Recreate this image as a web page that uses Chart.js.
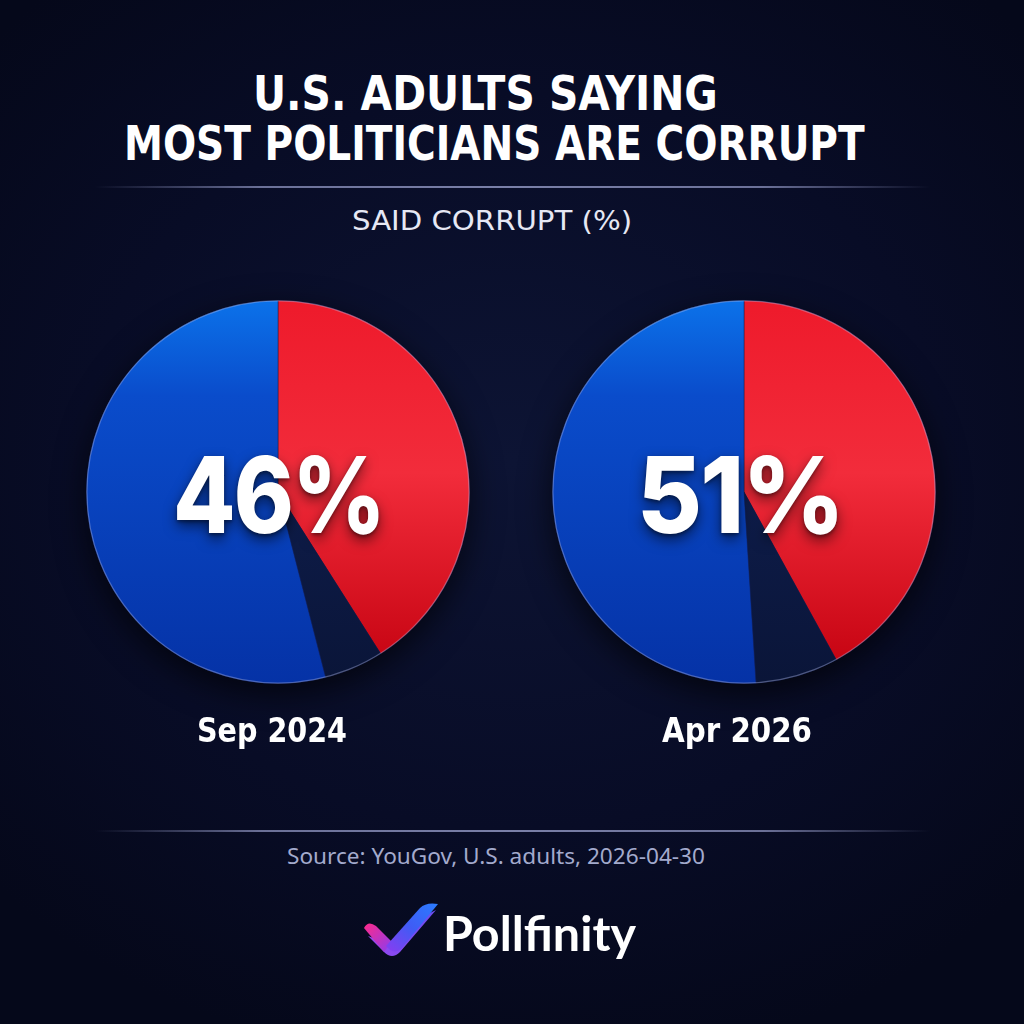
<!DOCTYPE html>
<html>
<head>
<meta charset="utf-8">
<script src="https://cdn.jsdelivr.net/npm/chart.js@4.4.1/dist/chart.umd.min.js"></script>
<style>
  html, body { margin: 0; padding: 0; }
  body {
    width: 1024px; height: 1024px; overflow: hidden; position: relative; color: #fff;
    background: radial-gradient(ellipse 70% 60% at 50% 45%, #0d1434 0%, #080c26 60%, #05081a 100%);
    font-family: "DejaVu Sans", sans-serif;
  }
  .t { position: absolute; white-space: nowrap; line-height: 1; transform-origin: left top; }
  .cond { font-family: "DejaVu Sans Condensed", "DejaVu Sans", sans-serif; font-stretch: condensed; font-weight: bold; }
  .rule { position: absolute; left: 95px; width: 835px; height: 2px;
    background: linear-gradient(90deg, rgba(120,128,170,0) 0%, rgba(140,146,190,.75) 20%, rgba(150,156,200,.8) 50%, rgba(140,146,190,.75) 80%, rgba(120,128,170,0) 100%); }
  .pie { position: absolute; width: 400px; height: 400px; filter: drop-shadow(0 10px 16px rgba(0,0,0,.65)); }
  .pct { font-family: Inter, Lato, sans-serif; font-weight: 800; font-size: 106px; letter-spacing: -2px;
    text-shadow: 0 6px 14px rgba(0,0,0,.55), 0 2px 4px rgba(0,0,0,.4); }
</style>
</head>
<body>

<div class="t cond" data-cx="485" data-w="465" style="top:69px;font-size:48px;">U.S. ADULTS SAYING</div>
<div class="t cond" data-cx="494" data-w="741" style="top:119px;font-size:48px;">MOST POLITICIANS ARE CORRUPT</div>
<div class="rule" style="top:186px;"></div>
<div class="t cond" data-cx="492" data-w="280" style="top:207px;font-size:27px;font-weight:normal;color:#e6e8f4;">SAID CORRUPT (%)</div>

<canvas id="pie0" class="pie" width="400" height="400" style="left:78px;top:292px;"></canvas>
<canvas id="pie1" class="pie" width="400" height="400" style="left:544px;top:292px;"></canvas>

<div id="pct0" class="t pct" data-cx="278" data-w="211" style="top:442px;"></div>
<div id="pct1" class="t pct" data-cx="740" data-w="206" style="top:442px;"></div>

<div id="date0" class="t cond" data-cx="272" data-w="150" style="top:714px;font-size:33px;"></div>
<div id="date1" class="t cond" data-cx="737" data-w="150" style="top:714px;font-size:33px;"></div>

<div class="rule" style="top:830px;"></div>
<div class="t" data-cx="496" data-w="418" style="top:846px;font-family:'Noto Sans',sans-serif;font-size:21px;color:#a3aacd;">Source: YouGov, U.S. adults, 2026-04-30</div>

<svg style="position:absolute;left:362px;top:900px;" width="82" height="64" viewBox="0 0 82 64">
  <defs>
    <linearGradient id="gL" x1="0" y1="0" x2="1" y2="1">
      <stop offset="0" stop-color="#ff2a8a"/><stop offset="1" stop-color="#8a3cf0"/>
    </linearGradient>
    <linearGradient id="gR" x1="0" y1="1" x2="1" y2="0">
      <stop offset="0" stop-color="#8a3cf0"/><stop offset="0.5" stop-color="#3f5cf5"/><stop offset="1" stop-color="#2a7cff"/>
    </linearGradient>
    <linearGradient id="gB" x1="0" y1="0" x2="1" y2="0">
      <stop offset="0" stop-color="#9a48f0"/><stop offset="1" stop-color="#6a4cf0"/>
    </linearGradient>
  </defs>
  <path d="M6 36 L22 52 Q30 60 38 52 L74 10 L66 14 L34 46 Z" fill="url(#gB)"/>
  <path d="M2 28 Q6 20 14 26 L30 42 L22 52 Z" fill="url(#gL)"/>
  <path d="M24 46 L58 8 Q64 2 76 4 L40 48 Q34 54 28 50 Z" fill="url(#gR)"/>
</svg>
<div class="t" data-cx="539" data-w="193" style="top:909px;font-family:Lato,Inter,sans-serif;font-weight:bold;font-size:48px;">Pollfinity</div>

<script>
// values
const dates = ["Sep 2024", "Apr 2026"];
const saidCorrupt = [46, 51];          // headline number in each pie
const sliceLabels = ["Corrupt", "Unsure", "Other"];
const redSlice = [41, 42];             // share drawn in red, from 12 o'clock
const darkSlice = [5, 7];              // thin dark wedge
const blueSlice = [54, 51];            // rest in blue

const sliceStops = [
  [[0, "#ee1a2b"], [0.45, "#f22c3b"], [1, "#c2000e"]],
  [[0, "#12235a"], [1, "#0a1538"]],
  [[0, "#0b72ea"], [0.25, "#0a4ccb"], [1, "#0532a6"]],
];

function sliceFill(ctx) {
  const chart = ctx.chart;
  const area = chart.chartArea;
  const stops = sliceStops[ctx.dataIndex];
  if (!area) return stops[1][1];
  const g = chart.ctx.createLinearGradient(area.left, area.top, area.left, area.bottom);
  stops.forEach(([o, c]) => g.addColorStop(o, c));
  return g;
}

// light rim round the pie
const rimPlugin = {
  id: "rim",
  afterDatasetsDraw(chart) {
    const arc = chart.getDatasetMeta(0).data[0];
    if (!arc) return;
    const c = chart.ctx;
    c.save();
    c.beginPath();
    c.arc(arc.x, arc.y, arc.outerRadius - 0.5, 0, Math.PI * 2);
    c.strokeStyle = "rgba(200,210,255,0.35)";
    c.lineWidth = 1.2;
    c.stroke();
    c.restore();
  },
};

dates.forEach((d, i) => {
  new Chart(document.getElementById("pie" + i), {
    type: "pie",
    data: {
      labels: sliceLabels,
      datasets: [{
        data: [redSlice[i], darkSlice[i], blueSlice[i]],
        backgroundColor: sliceFill,
        borderWidth: 0.8,
        borderColor: "rgba(20,30,80,0.6)",
      }],
    },
    options: {
      responsive: false,
      animation: false,
      layout: { padding: 8 },
      plugins: { legend: { display: false }, tooltip: { enabled: false } },
    },
    plugins: [rimPlugin],
  });
  document.getElementById("pct" + i).textContent = saidCorrupt[i] + "%";
  document.getElementById("date" + i).textContent = d;
});

// squeeze / stretch each text to its measured width and centre it
document.querySelectorAll(".t[data-cx]").forEach((el) => {
  const w = el.getBoundingClientRect().width;
  const s = +el.dataset.w / w;
  el.style.left = (+el.dataset.cx - w * s / 2) + "px";
  el.style.transform = "scaleX(" + s.toFixed(3) + ")";
});
</script>
</body>
</html>
